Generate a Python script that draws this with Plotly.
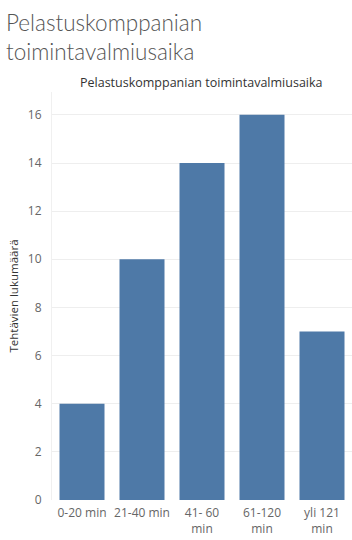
import plotly.graph_objects as go

categories = ["0-20 min", "21-40 min", "41- 60<br>min", "61-120<br>min", "yli 121<br>min"]
values = [4, 10, 14, 16, 7]
y_ticks = [0, 2, 4, 6, 8, 10, 12, 14, 16]

fig = go.Figure(go.Bar(
    x=categories, y=values, marker_color="#4e79a7", width=0.75,
    marker_line_width=0,
))

fig.update_layout(
    width=352, height=540,
    margin=dict(l=52, r=0, t=92, b=40),
    paper_bgcolor="white", plot_bgcolor="white",
    font=dict(family="Lato, Open Sans, sans-serif", color="#666666", size=11),
    showlegend=False,
    bargap=0.25,
    xaxis=dict(
        showgrid=False, showline=False, ticks="outside", ticklen=2, tickcolor="rgba(0,0,0,0)",
        tickfont=dict(size=12, color="#666666", family="Open Sans"),
        range=[-0.5, 4.5],
    ),
    yaxis=dict(
        range=[0, 16.95], tickvals=y_ticks,
        showgrid=True, gridcolor="#eeeeee", gridwidth=1,
        zeroline=False, showline=True, linecolor="#f0f0f0",
        ticks="", ticklabelstandoff=7,
        tickfont=dict(size=12, color="#666666", family="Open Sans"),
        title=dict(text="Tehtävien lukumäärä", standoff=6,
                   font=dict(size=11.5, color="#333333", family="Open Sans")),
    ),
    annotations=[
        dict(text="Pelastuskomppanian<br>toimintavalmiusaika", xref="paper", yref="paper",
             x=-52/300, y=1, yshift=85, xanchor="left", yanchor="top", showarrow=False,
             align="left", xshift=4,
             font=dict(size=22.5, color="#555555", family="Lato", weight=300)),
        dict(text="Pelastuskomppanian toimintavalmiusaika", xref="paper", yref="paper",
             x=0.5, y=1, yshift=10, xanchor="center", yanchor="middle", showarrow=False,
             xshift=-1,
             font=dict(size=12.5, color="#333333", family="Open Sans")),
    ],
)

fig.write_html("out.html")
